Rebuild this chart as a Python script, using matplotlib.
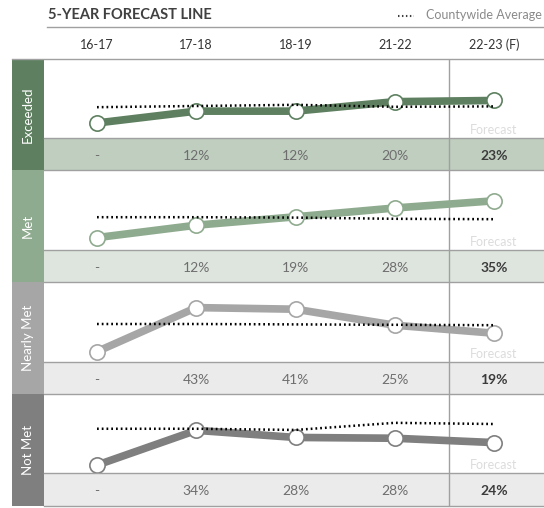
import matplotlib
matplotlib.use("Agg")
import matplotlib.pyplot as plt
from matplotlib.lines import Line2D
from matplotlib.patches import Rectangle

plt.rcParams['font.family'] = ['Lato', 'DejaVu Sans']

years = ["16-17", "17-18", "18-19", "21-22", "22-23 (F)"]
categories = ["Exceeded", "Met", "Nearly Met", "Not Met"]

# line positions (relative scale 0-100 within each panel)
line_exceeded = [19, 34, 34, 46, 47.5]
line_met = [15.5, 31, 41.5, 52.5, 61.5]
line_nearly = [13, 68, 66, 46, 36]
line_notmet = [10, 54, 45, 44, 38.5]
avg_exceeded = [39, 40.5, 42, 39.5, 40]
avg_met = [41, 41, 40.5, 39, 38.5]
avg_nearly = [47.5, 47.5, 47, 46.5, 46]
avg_notmet = [56, 56, 54.5, 63.5, 62]

labels_exceeded = ["-", "12%", "12%", "20%", "23%"]
labels_met = ["-", "12%", "19%", "28%", "35%"]
labels_nearly = ["-", "43%", "41%", "25%", "19%"]
labels_notmet = ["-", "34%", "28%", "28%", "24%"]

lines = [line_exceeded, line_met, line_nearly, line_notmet]
avgs = [avg_exceeded, avg_met, avg_nearly, avg_notmet]
labels = [labels_exceeded, labels_met, labels_nearly, labels_notmet]

bar_colors = ["#5e8060", "#8fab8f", "#a6a6a6", "#7f7f7f"]
line_colors = ["#5e8060", "#8fab8f", "#a6a6a6", "#7f7f7f"]
band_colors = ["#c0cec0", "#dee5de", "#ebebeb", "#ebebeb"]

W, H = 544, 508
fig = plt.figure(figsize=(W / 100, H / 100), dpi=100)

def fx(px):
    return px / W

def fy(py):
    return 1 - py / H

# panel geometry in pixels: (top, line_bottom, bottom)
panels = [(59, 138, 170), (170, 250, 282), (282, 362, 394), (394, 473, 506)]
left_bar = (12, 44)
content_l, content_r = 44, 544
xlim = ((content_l - 97) / 99.25, (content_r - 97) / 99.25)
sep_x = 3.55
grid_col = "#a0a0a0"
dots = (0, (0.7, 1.2))

# title and legend
fig.text(fx(48), fy(15), "5-YEAR FORECAST LINE", fontsize=10.5, fontweight="bold",
         color="#404040", va="center", ha="left")
fig.add_artist(Line2D([fx(47), fx(544)], [fy(27), fy(27)], color="#a0a0a0", lw=1))
fig.add_artist(Line2D([fx(398), fx(414)], [fy(16), fy(16)], color="#404040",
                      lw=1.5, ls=dots))
fig.text(fx(542), fy(15), "Countywide Average", fontsize=9, color="#8a8a8a",
         va="center", ha="right")

for i, (cat, (top, lb, bot)) in enumerate(zip(categories, panels)):
    # left label bar
    fig.add_artist(Rectangle((fx(left_bar[0]), fy(bot)), fx(left_bar[1] - left_bar[0]),
                             (bot - top) / H, color=bar_colors[i], lw=0))
    fig.text(fx((left_bar[0] + left_bar[1]) / 2), fy((top + bot) / 2), cat, rotation=90,
             color="white", fontsize=9.5, ha="center", va="center")

    # line area
    ax = fig.add_axes([fx(content_l), fy(lb), fx(content_r - content_l), (lb - top) / H])
    ax.set_xlim(*xlim)
    ax.set_ylim(0, 100)
    ax.axis("off")
    x = list(range(len(years)))
    ax.plot(x, lines[i], color=line_colors[i], lw=5.5, solid_capstyle="butt", zorder=2,
            marker="o", markersize=11, markerfacecolor="white",
            markeredgecolor=line_colors[i], markeredgewidth=1.2)
    ax.plot(x, avgs[i], color="black", lw=1.8, ls=dots, zorder=4)
    ax.axvline(sep_x, color=grid_col, lw=1, zorder=1)
    ax.text(4, 3, "Forecast", color="#dcdcdc", fontsize=9, ha="center", va="bottom")

    # value band
    bx = fig.add_axes([fx(content_l), fy(bot), fx(content_r - content_l), (bot - lb) / H])
    bx.set_xlim(*xlim)
    bx.set_ylim(0, 1)
    bx.axis("off")
    bx.add_patch(Rectangle((xlim[0], 0), xlim[1] - xlim[0], 1, color=band_colors[i], lw=0))
    bx.axvline(sep_x, color=grid_col, lw=1)
    for j, lab in enumerate(labels[i]):
        last = j == len(labels[i]) - 1
        bx.text(j, 0.45, lab, ha="center", va="center", fontsize=10,
                color="#3c3c3c" if last else "#6e6e6e",
                fontweight="bold" if last else "normal")

    # horizontal rules
    fig.add_artist(Line2D([fx(content_l), fx(544)], [fy(lb), fy(lb)], color=grid_col, lw=1))
    fig.add_artist(Line2D([fx(content_l), fx(544)], [fy(bot), fy(bot)], color=grid_col, lw=1))

fig.add_artist(Line2D([fx(12), fx(544)], [fy(59), fy(59)], color=grid_col, lw=1))

# column headers
hx = fig.add_axes([fx(content_l), fy(55), fx(content_r - content_l), 20 / H])
hx.set_xlim(*xlim)
hx.set_ylim(0, 1)
hx.axis("off")
for j, yr in enumerate(years):
    hx.text(j, 0.5, yr, ha="center", va="center", fontsize=9, color="#333333")

fig.savefig("out.png", dpi=100)
